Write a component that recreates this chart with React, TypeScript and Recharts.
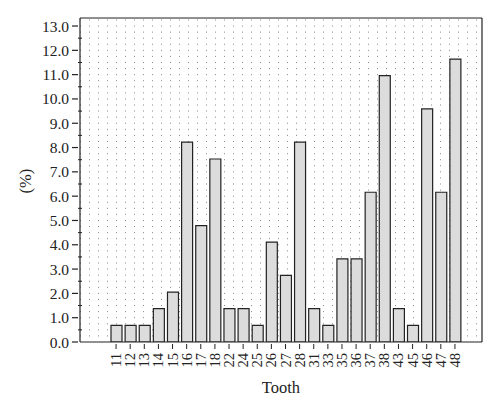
import { BarChart, Bar, XAxis, YAxis, CartesianGrid, ReferenceLine } from 'recharts';

const teeth = ['11', '12', '13', '14', '15', '16', '17', '18', '22', '24', '25', '26', '27', '28', '31', '33', '35', '36', '37', '38', '43', '45', '46', '47', '48'];
const percent = [0.68, 0.68, 0.68, 1.37, 2.05, 8.22, 4.79, 7.53, 1.37, 1.37, 0.68, 4.11, 2.74, 8.22, 1.37, 0.68, 3.42, 3.42, 6.16, 10.96, 1.37, 0.68, 9.59, 6.16, 11.64];
const yTicks = [0, 0.5, 1, 1.5, 2, 2.5, 3, 3.5, 4, 4.5, 5, 5.5, 6, 6.5, 7, 7.5, 8, 8.5, 9, 9.5, 10, 10.5, 11, 11.5, 12, 12.5, 13];
const yMax = 13.33;

const data = teeth.map((t, i) => ({ tooth: t, pct: percent[i] }));

const FONT = '"Liberation Serif", "DejaVu Serif", serif';

// integers get an outward tick + label, half steps a short inward tick
function YTick(props: any) {
  const { x, y, payload } = props;
  const v = payload.value;
  const whole = Number.isInteger(v);
  if (!whole) {
    return <line x1={x} x2={x + 4} y1={y} y2={y} stroke="#222" strokeWidth={1} />;
  }
  return (
    <g>
      <line x1={x - 6} x2={x} y1={y} y2={y} stroke="#222" strokeWidth={1.2} />
      <text x={x - 9} y={y} textAnchor="end" dominantBaseline="central" fontFamily={FONT} fontSize={15.5} fill="#222">
        {v.toFixed(1)}
      </text>
    </g>
  );
}

function XTick(props: any) {
  const { x, y, payload } = props;
  return (
    <g>
      <line x1={x} x2={x} y1={y} y2={y + 5} stroke="#222" strokeWidth={1} />
      <text
        x={x}
        y={y + 9}
        transform={`rotate(-90 ${x} ${y + 9})`}
        textAnchor="end"
        dominantBaseline="central"
        fontFamily={FONT}
        fontSize={14.5}
        fill="#222"
      >
        {payload.value}
      </text>
    </g>
  );
}

export default function App() {
  const gridRows: number[] = [];
  for (let v = 0.25; v < yMax; v += 0.25) gridRows.push(v);

  return (
    <div style={{ position: 'absolute', left: 0, top: 0, width: 500, height: 410, background: '#fff' }}>
      <BarChart width={500} height={410} data={data} margin={{ top: 18, right: 17, left: 0, bottom: 0 }} barSize={11}>
        <CartesianGrid
          vertical={false}
          horizontalValues={gridRows}
          stroke="#888"
          strokeDasharray="1 8"
        />
        <XAxis
          dataKey="tooth"
          height={68}
          padding={{ left: 29, right: 20 }}
          axisLine={{ stroke: '#222', strokeWidth: 1.2 }}
          tickLine={false}
          tickSize={0}
          tick={<XTick />}
          interval={0}
          label={{ value: 'Tooth', position: 'insideBottom', offset: 17, fontFamily: FONT, fontSize: 16.5, fill: '#222' }}
        />
        <YAxis
          width={80}
          domain={[0, yMax]}
          ticks={yTicks}
          interval={0}
          allowDataOverflow
          axisLine={{ stroke: '#222', strokeWidth: 1.2 }}
          tickLine={false}
          tickSize={0}
          tick={<YTick />}
          label={{
            content: () => (
              <text x={25} y={181} transform="rotate(-90 25 181)" textAnchor="middle" dominantBaseline="central" fontFamily={FONT} fontSize={16.5} fill="#222">
                (%)
              </text>
            ),
          }}
        />
        <YAxis yAxisId="frame" orientation="right" width={1} tick={false} tickLine={false} axisLine={{ stroke: '#222', strokeWidth: 1.2 }} />
        <ReferenceLine y={yMax} stroke="#222" strokeWidth={1.2} />
        <Bar dataKey="pct" fill="#dcdcdc" stroke="#222" strokeWidth={1.2} isAnimationActive={false} />
      </BarChart>
    </div>
  );
}
